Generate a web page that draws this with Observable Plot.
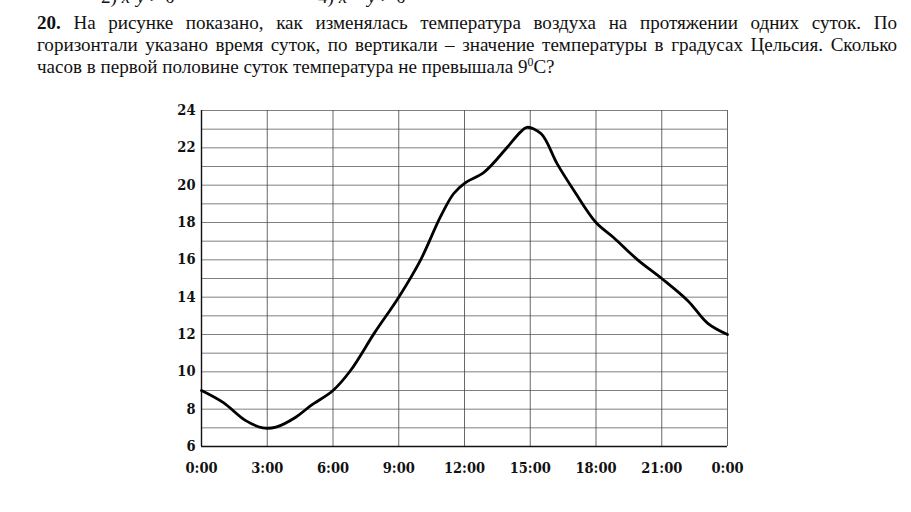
<!DOCTYPE html>
<html>
<head>
<meta charset="utf-8">
<script src="https://cdn.jsdelivr.net/npm/d3@7"></script>
<script src="https://cdn.jsdelivr.net/npm/@observablehq/plot@0.6"></script>
<style>
  html, body { margin: 0; padding: 0; background: #fff; width: 911px; height: 512px; overflow: hidden; }
  #head { position: relative; height: 90px; width: 911px; overflow: hidden; font-family: "Liberation Serif", "Times New Roman", serif; color: #111; }
  #prev { position: absolute; top: -14px; left: 0; font-size: 18px; white-space: nowrap; }
  #prev span { position: absolute; }
  #task { position: absolute; left: 37px; top: 12px; width: 860px; font-size: 18px; line-height: 22px; }
  #task div { white-space: nowrap; }
  #task .j { text-align: justify; text-align-last: justify; white-space: normal; }
  #chart svg { display: block; }
</style>
</head>
<body>
<div id="head">
  <div id="prev"><span style="left:101px">2) <i>x</i>·<i>y</i> &gt; 0</span><span style="left:318px">4) <i>x</i> − <i>y</i> &gt; 0</span></div>
  <div id="task">
    <div class="j"><b>20.</b> На рисунке показано, как изменялась температура воздуха на протяжении одних суток. По</div>
    <div class="j">горизонтали указано время суток, по вертикали – значение температуры в градусах Цельсия. Сколько</div>
    <div id="l3">часов в первой половине суток температура не превышала 9<sup style="font-size:0.62em;line-height:0">0</sup>C?</div>
  </div>
</div>
<div id="chart"></div>
<script>
// Data
const hours = [0, 1, 2, 2.8, 3.4, 4.3, 5, 6, 6.8, 7.9, 9, 10, 10.9, 11.5, 12, 12.9, 13.95, 14.55, 14.85, 15.5, 16.23, 17, 18, 18.8, 19.9, 21, 22.2, 23.1, 24];
const temps = [9, 8.35, 7.4, 7.0, 7.04, 7.57, 8.2, 9.0, 10.07, 12.1, 14.0, 16.0, 18.3, 19.54, 20.1, 20.7, 22.03, 22.84, 23.1, 22.75, 21.14, 19.7, 18.0, 17.2, 16.0, 15.0, 13.8, 12.6, 12.0];
const xTicks = [0, 3, 6, 9, 12, 15, 18, 21, 24];
const xTickLabels = ["0:00", "3:00", "6:00", "9:00", "12:00", "15:00", "18:00", "21:00", "0:00"];
const yTicks = [6, 8, 10, 12, 14, 16, 18, 20, 22, 24];
const yGrid = [6, 7, 8, 9, 10, 11, 12, 13, 14, 15, 16, 17, 18, 19, 20, 21, 22, 23, 24];

const data = hours.map((h, i) => ({h, t: temps[i]}));

// size the task text so line 3 has the reference's width
const task = document.getElementById("task");
const l3 = document.getElementById("l3");
const r = document.createRange();
r.selectNodeContents(l3);
const w3 = r.getBoundingClientRect().width;
const fs = 18 * 518 / w3;
task.style.fontSize = fs.toFixed(2) + "px";
document.getElementById("prev").style.fontSize = fs.toFixed(2) + "px";

const chart = Plot.plot({
  width: 911,
  height: 422,
  marginLeft: 201,
  marginRight: 184,
  marginTop: 20,
  marginBottom: 66,
  style: {fontFamily: "'DejaVu Serif Condensed', 'DejaVu Serif', serif", fontStretch: "condensed", background: "#fff", color: "#111"},
  x: {domain: [0, 24]},
  y: {domain: [6, 24]},
  marks: [
    Plot.ruleY(yGrid, {y: d => d, stroke: "#555", strokeWidth: 1, strokeOpacity: 0.75}),
    Plot.ruleX(xTicks, {x: d => d, stroke: "#444", strokeWidth: 1, strokeOpacity: 0.8}),
    Plot.ruleY([6], {stroke: "#111", strokeWidth: 1.6}),
    Plot.ruleX([0], {stroke: "#111", strokeWidth: 1.4}),
    Plot.axisX({ticks: xTicks, tickSize: 0, tickPadding: 16, tickFormat: (d, i) => xTickLabels[i], fontSize: 14.5, fontWeight: "bold", label: null}),
    Plot.axisY({ticks: yTicks, tickSize: 0, tickPadding: 6, fontSize: 14.5, fontWeight: "bold", label: null}),
    Plot.line(data, {x: "h", y: "t", curve: "catmull-rom", stroke: "#000", strokeWidth: 2.8})
  ]
});
document.getElementById("chart").appendChild(chart);
</script>
</body>
</html>
